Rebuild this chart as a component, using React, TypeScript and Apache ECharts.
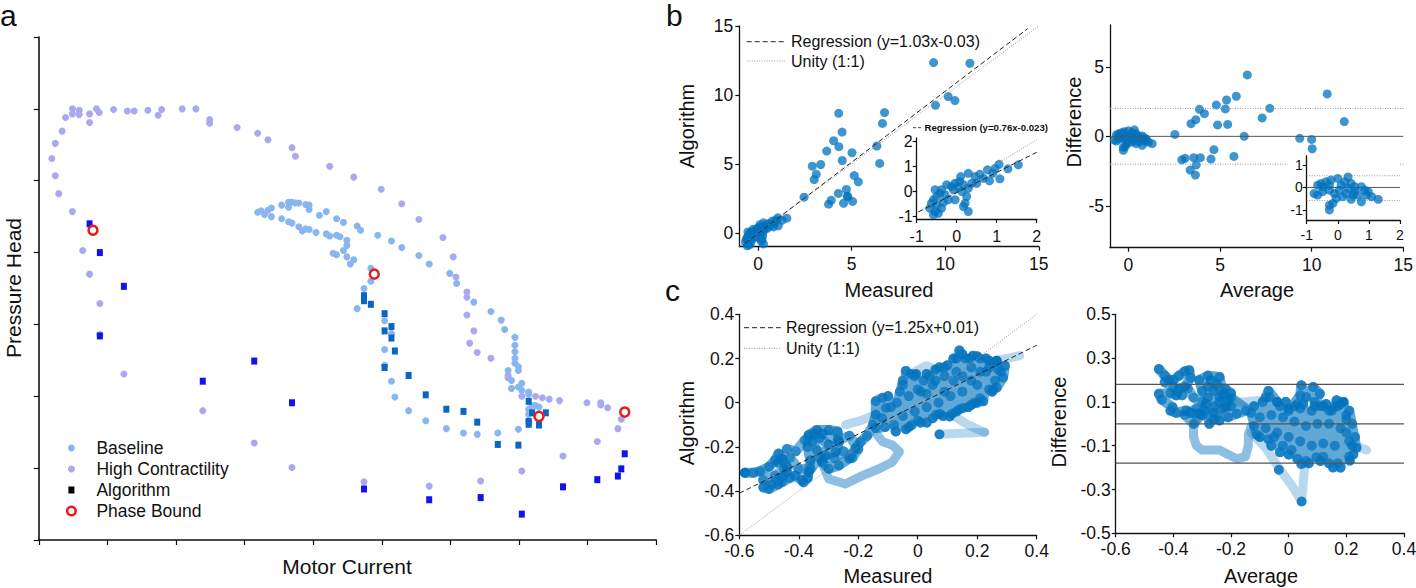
import React, { useEffect, useRef } from "react";
import * as echarts from "echarts";

const FONT = "'Liberation Sans', Arial, Helvetica, sans-serif";
const BLUE = "#0072BD";

// ---------------- Panel a : Pressure Head vs Motor Current ----------------
const aHighContractility: number[][] = [
  [0.19, 5.31], [0.24, 5.52], [0.24, 5.07], [0.29, 4.82], [0.34, 5.69], [0.39, 5.88], [0.49, 6.0], [0.49, 5.93],
  [0.59, 5.98], [0.59, 5.92], [0.49, 4.57], [0.64, 4.03], [0.74, 3.7], [0.74, 5.93], [0.74, 5.81], [0.84, 6.0],
  [0.88, 5.95], [1.09, 5.99], [1.29, 5.97], [1.39, 5.97], [1.59, 5.98], [1.74, 5.91], [1.79, 5.99], [2.09, 6.0],
  [2.29, 6.0], [2.49, 5.85], [2.49, 5.8], [2.89, 5.74], [3.19, 5.66], [3.34, 5.57], [3.69, 5.46], [3.74, 5.34],
  [4.24, 5.2], [4.59, 5.05], [4.99, 4.88], [5.29, 4.68], [5.54, 4.46], [5.89, 4.21], [6.04, 3.94], [6.08, 3.66],
  [6.24, 3.45], [6.24, 3.38], [0.89, 3.29], [0.89, 2.86], [6.24, 3.13], [6.34, 2.91], [6.28, 2.74], [6.39, 2.61],
  [6.59, 2.53], [1.24, 2.31], [2.39, 1.8], [3.14, 1.35], [3.69, 1.01], [4.74, 0.81], [5.69, 0.75], [6.44, 0.82],
  [7.04, 0.96], [7.64, 1.17], [8.14, 1.37], [8.44, 1.55], [8.49, 1.68], [8.29, 1.84], [8.19, 1.88], [8.19, 1.91],
  [7.99, 1.91], [7.59, 1.94], [7.44, 1.96], [7.34, 1.98], [7.24, 2.0], [7.04, 2.0], [6.84, 2.29], [6.84, 2.26],
];
const aBaseline: number[][] = [
  [3.19, 4.56], [3.24, 4.58], [3.29, 4.53], [3.34, 4.59], [3.39, 4.62], [3.39, 4.5], [3.54, 4.66], [3.64, 4.7],
  [3.64, 4.63], [3.69, 4.7], [3.74, 4.69], [3.79, 4.69], [3.89, 4.67], [3.94, 4.66], [3.94, 4.6], [4.09, 4.52],
  [4.19, 4.57], [3.54, 4.47], [3.64, 4.43], [3.69, 4.41], [3.79, 4.36], [3.84, 4.3], [3.89, 4.33], [3.94, 4.32],
  [4.04, 4.28], [4.19, 4.26], [4.24, 4.23], [4.34, 4.24], [4.39, 4.22], [4.34, 4.47], [4.44, 4.42], [4.64, 4.37],
  [4.69, 4.31], [4.49, 4.17], [4.49, 4.1], [4.44, 4.03], [4.29, 3.99], [4.34, 3.97], [4.49, 3.94], [4.59, 3.9],
  [4.54, 3.84], [4.84, 3.78], [4.84, 3.6], [4.74, 3.5], [4.94, 4.24], [5.14, 4.16], [5.29, 4.07], [5.54, 3.96],
  [5.69, 3.84], [5.99, 3.71], [6.09, 3.57], [6.34, 3.31], [4.64, 3.22], [5.04, 3.05], [5.14, 2.87], [5.04, 2.65],
  [5.04, 2.43], [5.14, 2.21], [5.19, 1.99], [5.39, 1.8], [5.64, 1.66], [5.94, 1.55], [6.19, 1.49], [6.39, 1.47],
  [6.69, 1.49], [6.99, 1.54], [6.59, 3.18], [6.74, 3.06], [6.79, 2.93], [6.94, 2.82], [6.94, 2.71], [6.94, 2.62],
  [6.94, 2.53], [6.94, 2.46], [6.99, 2.41], [6.99, 2.36], [6.84, 2.36], [6.89, 2.22], [6.89, 2.11], [6.99, 2.13],
  [7.04, 2.18], [7.04, 2.08], [7.14, 2.06], [7.14, 2.03], [7.19, 1.87], [7.24, 1.87], [7.29, 1.85], [7.14, 1.82],
  [7.14, 1.75], [7.14, 1.66],
];
const aAlgorithmHigh: number[][] = [
  [0.74, 4.4], [0.89, 4.0], [1.24, 3.53], [0.89, 2.84], [3.14, 2.49], [2.39, 2.21], [3.69, 1.91], [4.74, 0.71],
  [5.69, 0.56], [6.44, 0.59], [7.04, 0.36], [7.64, 0.74], [8.14, 0.84], [8.44, 0.89], [8.49, 0.99], [8.54, 1.2],
];
const aAlgorithmBase: number[][] = [
  [4.74, 3.4], [4.74, 3.33], [4.84, 3.28], [5.04, 3.15], [5.14, 2.97], [5.04, 2.91], [5.14, 2.81], [5.19, 2.63],
  [5.04, 2.4], [5.39, 2.29], [5.64, 2.02], [5.94, 1.82], [6.19, 1.79], [6.39, 1.64], [6.69, 1.33], [6.99, 1.32],
  [7.14, 1.93], [7.19, 1.77], [7.39, 1.77], [7.14, 1.65], [7.14, 1.61], [7.29, 1.6],
];
const aPhaseBound: number[][] = [[0.79, 4.31], [4.89, 3.7], [7.29, 1.72], [8.54, 1.78]];

// ---------------- Panel b : agreement (Measured vs Algorithm) ----------------
const bFar: number[][] = [
  [9.38, 12.35], [11.32, 12.3], [10.16, 9.88], [10.52, 9.59], [9.48, 9.25], [6.76, 8.72], [6.65, 7.94], [6.5, 5.04],
  [6.35, 6.3], [4.31, 8.67], [4.49, 7.31], [4.04, 6.68], [4.32, 6.25], [3.67, 5.93], [4.5, 5.25], [5.02, 5.81],
  [3.35, 4.96], [2.9, 4.84], [3.11, 4.26], [3.0, 3.87], [5.14, 4.16], [5.36, 3.7], [4.72, 3.15], [4.77, 2.66],
  [4.29, 2.86], [3.91, 2.37], [3.77, 2.08], [4.57, 2.15], [5.05, 2.28], [2.46, 2.59], [4.8, 2.62],
];
const bCluster: number[][] = [
  [1.54, 1.07], [1.28, 0.91], [1.06, 1.09], [0.96, 0.93], [0.77, 0.87], [0.9, 0.73], [1.08, 0.51], [0.58, 0.69],
  [0.46, 0.6], [0.67, 0.53], [0.82, 0.43], [0.29, 0.73], [0.1, 0.6], [0.07, 0.4], [-0.04, 0.33], [-0.13, 0.2],
  [-0.08, 0.07], [0.04, 0.16], [0.17, 0.27], [0.29, 0.13], [0.25, -0.2], [0.21, -0.47], [0.17, -0.6], [0.29, -0.8],
  [-0.04, -0.33], [-0.25, 0.27], [-0.38, 0.07], [-0.42, -0.07], [-0.5, -0.2], [-0.54, 0.07], [-0.58, -0.33],
  [-0.63, -0.47], [-0.67, -0.67], [-0.54, -0.8], [-0.46, -0.87], [-0.38, -0.67], [-0.33, -0.43], [-0.21, -0.33],
  [-0.5, -0.53], [-0.29, -0.13], [0.13, 0], [0.38, 0.33], [0.5, 0.33], [-0.58, -0.93],
];
const bRegression: number[][] = [[-0.7, -0.75], [14.4, 14.8]];
const bUnity: number[][] = [[-1, -1], [15, 15]];
const bInsetRegression: number[][] = [[-0.96, -0.82], [2, 1.57]];
const bInsetUnity: number[][] = [[-0.96, -0.8], [2, 2.07]];
const bTicks = [0, 5, 10, 15];
const insetTicks = [-1, 0, 1, 2];

// Bland-Altman (Average vs Difference)
const baFar: number[][] = [
  [6.49, 4.41], [10.85, 3.05], [11.78, 1.06], [5.89, 2.88], [5.36, 2.61], [4.8, 2.25], [5.29, 1.97], [7.72, 2.01],
  [7.3, 1.32], [3.88, 1.94], [4.15, 1.63], [3.68, 1.2], [3.42, 0.91], [4.87, 0.82], [5.42, 0.86], [2.54, 0.14],
  [6.32, 0], [9.35, -0.14], [10.0, -0.22], [10.03, -0.89], [4.67, -0.96], [5.76, -1.44], [4.51, -1.63],
  [3.57, -1.53], [3.93, -1.53], [3.1, -1.58], [2.92, -1.68], [3.7, -2.06], [3.37, -2.42], [3.66, -2.78],
];
const baCluster: number[][] = [
  [1.3, -0.53], [1.09, -0.41], [0.98, -0.19], [0.87, -0.12], [0.92, -0.34], [0.76, -0.64], [0.76, 0.03],
  [0.54, -0.19], [0.49, -0.34], [0.43, -0.53], [0.33, 0.47], [0.43, 0.18], [0.22, 0.25], [0.11, 0.1], [0, 0.4],
  [-0.22, 0.33], [-0.38, 0.25], [-0.54, 0.18], [-0.65, 0.1], [-0.76, -0.27], [-0.65, -0.34], [-0.49, -0.19],
  [-0.27, -0.12], [-0.11, -0.27], [-0.16, -0.71], [-0.27, -0.79], [-0.27, -1.0], [-0.05, -0.49], [0.16, -0.41],
  [0.27, -0.27], [0.05, -0.12], [0.33, -0.04], [0.54, 0.03], [-0.27, 0.1], [-0.49, 0.03], [0.65, -0.34],
];
const baLevels = { mean: 0, upper: 2, lower: -2 };
const baInsetLevels = { mean: 0, upper: 0.52, lower: -0.58 };
const baYTicks = [-5, 0, 5];
const baInsetYTicks = [-1, 0, 1];

// ---------------- Panel c : continuous trajectories ----------------
// dense (slow) part of the Measured/Algorithm trajectory
const cMeasuredAlgorithm: number[][] = [
  [-0.581, -0.317], [-0.553, -0.317], [-0.53, -0.31], [-0.5, -0.29], [-0.48, -0.26], [-0.468, -0.23],
  [-0.457, -0.253], [-0.44, -0.29], [-0.44, -0.314], [-0.457, -0.34], [-0.49, -0.37], [-0.519, -0.383],
  [-0.5, -0.39], [-0.47, -0.37], [-0.457, -0.36], [-0.43, -0.34], [-0.412, -0.33], [-0.39, -0.35], [-0.384, -0.36],
  [-0.37, -0.34], [-0.367, -0.314], [-0.361, -0.26], [-0.37, -0.2], [-0.367, -0.146], [-0.339, -0.123],
  [-0.299, -0.123], [-0.27, -0.13], [-0.265, -0.177], [-0.276, -0.222], [-0.31, -0.238], [-0.339, -0.215],
  [-0.355, -0.177], [-0.33, -0.16], [-0.3, -0.19], [-0.322, -0.268], [-0.299, -0.299], [-0.265, -0.284],
  [-0.231, -0.253], [-0.209, -0.207], [-0.192, -0.177], [-0.17, -0.15], [-0.15, -0.1], [-0.141, -0.054],
  [-0.141, 0.007], [-0.118, 0.022], [-0.107, -0.024], [-0.12, -0.07], [-0.141, -0.115], [-0.11, -0.11],
  [-0.09, -0.02], [-0.074, -0.13], [-0.06, 0.05], [-0.04, -0.12], [-0.04, 0.144], [-0.02, -0.1], [-0.006, 0.13],
  [0.0, -0.08], [0.02, 0.1], [0.03, -0.09], [0.04, 0.12], [0.062, -0.054], [0.073, 0.16], [0.085, -0.06],
  [0.1, 0.17], [0.107, -0.062], [0.12, 0.2], [0.13, -0.04], [0.14, 0.236], [0.152, -0.024], [0.16, 0.2],
  [0.18, -0.01], [0.186, 0.213], [0.2, 0.0], [0.21, 0.2], [0.22, 0.007], [0.24, 0.19], [0.25, 0.05], [0.265, 0.19],
  [0.265, 0.068], [0.287, 0.114], [0.293, 0.167], [0.27, 0.15], [0.253, 0.06], [0.23, 0.14], [0.2, 0.08],
  [0.18, 0.16], [0.15, 0.05], [0.13, 0.14], [0.11, 0.03], [0.09, 0.12], [0.07, 0.0], [0.05, 0.08], [0.03, -0.02],
  [0.01, 0.05], [-0.01, -0.04], [-0.03, 0.03], [-0.05, -0.06], [-0.07, 0.0], [-0.05, 0.08], [-0.023, 0.13],
  [0.0, 0.06], [0.03, 0.04], [0.06, 0.1], [0.09, 0.05], [0.12, 0.1], [0.15, 0.12], [0.18, 0.1], [0.21, 0.14],
  [0.24, 0.16], [0.265, 0.19], [0.28, 0.14], [0.26, 0.1], [0.255, 0.18], [0.24, 0.06], [0.23, 0.2], [0.21, 0.02],
  [0.2, 0.21], [0.19, 0.0], [0.175, 0.2], [0.17, -0.02], [0.15, 0.22], [0.14, -0.03], [0.13, 0.2], [0.115, -0.05],
  [0.09, 0.16], [0.075, -0.05], [0.06, 0.15], [0.05, -0.07], [0.03, 0.13], [0.01, -0.09], [-0.01, 0.12],
  [-0.03, -0.11], [-0.05, 0.1], [-0.08, -0.1], [-0.1, 0.03],
];
// a second slow loop through the lower-left cluster
const cMeasuredAlgorithmLoop: number[][] = [
  [-0.52, -0.35], [-0.48, -0.33], [-0.45, -0.3], [-0.47, -0.27], [-0.43, -0.25], [-0.4, -0.3], [-0.36, -0.3],
  [-0.33, -0.25], [-0.28, -0.25], [-0.25, -0.22], [-0.22, -0.25], [-0.2, -0.21], [-0.23, -0.15], [-0.27, -0.17],
  [-0.32, -0.14], [-0.35, -0.14], [-0.38, -0.17], [-0.41, -0.22], [-0.44, -0.21],
];
// faster (lighter) stretches of the same trajectory
const cMeasuredAlgorithmStreaks: number[][][] = [
  [[-0.322, -0.268], [-0.31, -0.31], [-0.299, -0.345], [-0.243, -0.368], [-0.186, -0.33], [-0.13, -0.299],
    [-0.085, -0.268], [-0.062, -0.222], [-0.085, -0.192], [-0.118, -0.177], [-0.136, -0.146]],
  [[-0.243, -0.1], [-0.19, -0.08], [-0.141, -0.054]],
  [[0.073, -0.143], [0.15, -0.138], [0.225, -0.134]],
  [[0.12, -0.06], [0.17, -0.1], [0.225, -0.134]],
  [[0.265, 0.19], [0.3, 0.2], [0.343, 0.213]],
  [[-0.023, 0.13], [0.028, 0.167], [0.06, 0.15]],
];
const cMeasuredAlgorithmDots: number[][] = [[0.073, -0.143], [-0.581, -0.317]];
const cRegression: number[][] = [[-0.6, -0.41], [0.4, 0.26]];
const cUnity: number[][] = [[-0.6, -0.6], [0.4, 0.4]];
const cTicks = [-0.6, -0.4, -0.2, 0, 0.2, 0.4];

// Bland-Altman trajectory (Average vs Difference)
const cAverageDifference: number[][] = [
  [-0.45, 0.25], [-0.43, 0.22], [-0.414, 0.2], [-0.4, 0.2], [-0.38, 0.22], [-0.36, 0.24], [-0.345, 0.245],
  [-0.34, 0.21], [-0.36, 0.17], [-0.38, 0.16], [-0.39, 0.13], [-0.41, 0.14], [-0.45, 0.137], [-0.44, 0.11],
  [-0.403, 0.076], [-0.41, 0.06], [-0.39, 0.05], [-0.356, 0.061], [-0.34, 0.05], [-0.31, 0.046], [-0.3, 0.04],
  [-0.287, 0.092], [-0.275, 0.0], [-0.26, 0.05], [-0.24, 0.015], [-0.217, 0.076], [-0.21, 0.03], [-0.18, 0.046],
  [-0.148, 0.061], [-0.2, 0.08], [-0.24, 0.1], [-0.26, 0.08], [-0.28, 0.12], [-0.3, 0.15], [-0.31, 0.2],
  [-0.28, 0.22], [-0.24, 0.214], [-0.229, 0.137], [-0.22, 0.16], [-0.2, 0.14], [-0.24, 0.12], [-0.26, 0.15],
  [-0.28, 0.17], [-0.2, 0.12], [-0.13, 0.05], [-0.11, -0.05], [-0.09, 0.1], [-0.07, -0.07], [-0.066, 0.122],
  [-0.05, -0.06], [-0.03, 0.08], [-0.02, -0.1], [0.0, 0.07], [0.01, -0.12], [0.03, 0.09], [0.044, -0.183],
  [0.05, 0.09], [0.06, -0.17], [0.08, 0.06], [0.096, -0.153], [0.11, 0.08], [0.12, -0.15], [0.14, 0.06],
  [0.154, -0.199], [0.166, 0.107], [0.17, -0.18], [0.19, 0.1], [0.212, -0.168], [0.2, 0.04], [0.224, -0.14],
  [0.22, 0.0], [0.21, -0.08], [0.18, -0.02], [0.16, -0.1], [0.14, 0.0], [0.12, -0.09], [0.1, 0.0], [0.08, -0.1],
  [0.06, -0.01], [0.04, -0.08], [0.02, 0.01], [0.0, -0.06], [-0.02, 0.03], [-0.04, -0.04], [-0.06, 0.04],
  [-0.08, -0.02], [-0.1, 0.03], [-0.12, -0.01], [-0.07, 0.15], [-0.04, 0.1], [0.0, 0.06], [0.04, 0.13],
  [0.044, 0.176], [0.061, 0.122], [0.085, 0.168], [0.108, 0.137], [0.09, 0.1], [0.12, 0.08], [0.15, 0.06],
  [0.17, 0.08], [0.19, 0.1], [0.2, 0.02], [0.23, -0.06], [0.22, -0.1], [0.2, -0.04], [0.235, -0.11],
  [0.21, 0.06], [0.21, -0.15], [0.18, 0.09], [0.18, -0.2], [0.16, 0.08], [0.14, -0.18], [0.13, 0.09],
  [0.11, -0.17], [0.09, 0.08], [0.07, -0.18], [0.04, 0.07], [0.03, -0.16], [0.02, 0.08], [0.0, -0.14],
  [-0.01, 0.1], [-0.03, -0.13], [-0.04, 0.1], [-0.06, -0.1], [-0.08, 0.12], [-0.1, -0.06], [-0.12, 0.08],
];
// a second slow loop through the upper-left cluster
const cAverageDifferenceLoop: number[][] = [
  [-0.43, 0.19], [-0.4, 0.17], [-0.37, 0.13], [-0.35, 0.16], [-0.33, 0.12], [-0.3, 0.1], [-0.32, 0.07],
  [-0.36, 0.04], [-0.33, 0.0], [-0.29, 0.06], [-0.26, 0.02], [-0.23, 0.07], [-0.21, 0.11], [-0.25, 0.18],
  [-0.27, 0.2],
];
const cAverageDifferenceStreaks: number[][][] = [
  [[-0.13, -0.04], [-0.08, -0.11], [-0.03, -0.21], [0.01, -0.28], [0.045, -0.355], [0.05, -0.28], [0.055, -0.2]],
  [[-0.32, 0.02], [-0.33, -0.02], [-0.33, -0.06], [-0.32, -0.1], [-0.3, -0.12], [-0.27, -0.12], [-0.24, -0.12],
    [-0.21, -0.14], [-0.18, -0.16], [-0.15, -0.15], [-0.14, -0.1], [-0.14, -0.05], [-0.13, -0.01]],
  [[-0.206, 0.1], [-0.16, 0.1], [-0.107, 0.107]],
  [[0.22, -0.1], [0.25, -0.11], [0.27, -0.12]],
];
const cAverageDifferenceDots: number[][] = [[-0.034, -0.21], [0.045, -0.355]];
const cBALevels = [0.18, 0, -0.18];
const cBAYTicks = [-0.5, -0.3, -0.1, 0.1, 0.3, 0.5];

// ---------------- helpers ----------------
const axis = (gridIndex: number, min: number, max: number, ticks: number[] | null, o: any = {}) => ({
  type: "value",
  gridIndex,
  min,
  max,
  z: o.z ?? 0,
  splitLine: { show: false },
  axisLine: { show: true, onZero: false, lineStyle: { color: "#111", width: o.lw ?? 1.3 } },
  axisTick: {
    show: true,
    inside: false,
    length: o.tickLen ?? 4,
    lineStyle: { color: "#111", width: 1.2 },
    ...(ticks ? { customValues: ticks } : {}),
  },
  axisLabel: {
    show: o.noLabel ? false : true,
    fontSize: o.fs ?? 17.5,
    color: "#111",
    fontFamily: FONT,
    margin: o.margin ?? 7,
    ...(ticks ? { customValues: ticks } : {}),
  },
  ...(o.interval ? { interval: o.interval } : {}),
});

const scatter = (idx: number, data: number[][], o: any = {}) => ({
  type: "scatter",
  xAxisIndex: idx,
  yAxisIndex: idx,
  data,
  symbol: o.symbol ?? "circle",
  symbolSize: o.size ?? 9,
  z: o.z ?? 2,
  silent: true,
  itemStyle: {
    color: o.color ?? BLUE,
    opacity: o.opacity ?? 1,
    ...(o.border ? { borderColor: o.border, borderWidth: o.bw ?? 2.5 } : {}),
  },
});

const line = (idx: number, data: number[][], o: any = {}) => ({
  type: "line",
  xAxisIndex: idx,
  yAxisIndex: idx,
  data,
  symbol: "none",
  silent: true,
  z: o.z ?? 3,
  lineStyle: {
    color: o.color ?? "#222",
    width: o.width ?? 1,
    type: o.dash ?? "solid",
    opacity: o.opacity ?? 1,
    cap: o.cap ?? "butt",
    join: o.join ?? "miter",
  },
});

const trail = (idx: number, data: number[][], opacity: number, width = 9) =>
  line(idx, data, { color: BLUE, width, opacity, cap: "round", join: "round", z: 2 });

const T = (text: string, x: number, y: number, size: number, o: any = {}) => ({
  type: "text",
  x,
  y,
  rotation: o.rot ?? 0,
  z: 50,
  silent: true,
  style: {
    text,
    fontSize: size,
    fontFamily: FONT,
    fontWeight: o.weight ?? "normal",
    fill: o.fill ?? "#111",
    align: o.align ?? "center",
    verticalAlign: "middle",
  },
});

const L = (x1: number, y1: number, x2: number, y2: number, stroke: string, dash: number[] | null, w = 1) => ({
  type: "line",
  z: 50,
  silent: true,
  shape: { x1, y1, x2, y2 },
  style: { stroke, lineWidth: w, lineDash: dash ?? undefined },
});

const DASH = [5, 3];
const DOT = [1, 1.5];
const ROT = Math.PI / 2;

const option: any = {
  animation: false,
  backgroundColor: "#ffffff",
  grid: [
    { left: 38.8, top: 37, width: 617.5, height: 503, outerBoundsMode: "none" },
    { left: 739.3, top: 26, width: 299.5, height: 220.7, outerBoundsMode: "none" },
    { left: 916.7, top: 137.8, width: 120, height: 81.2, outerBoundsMode: "none" },
    { left: 1110, top: 25, width: 293.3, height: 222.7, outerBoundsMode: "none" },
    { left: 1306.7, top: 156, width: 93.3, height: 64, outerBoundsMode: "none" },
    { left: 739.3, top: 314.3, width: 297.4, height: 221, outerBoundsMode: "none" },
    { left: 1115.7, top: 314.3, width: 288.3, height: 219, outerBoundsMode: "none" },
  ],
  xAxis: [
    axis(0, 0, 9, null, { interval: 1, tickLen: 5, noLabel: true, lw: 1.6 }),
    axis(1, -1, 15, bTicks, { margin: 8 }),
    axis(2, -1, 2, insetTicks, { fs: 16, margin: 9 }),
    axis(3, -1, 15, bTicks, { margin: 8 }),
    axis(4, -1, 2, insetTicks, { fs: 14, margin: 8, z: 10 }),
    axis(5, -0.6, 0.4, cTicks, { margin: 7 }),
    axis(6, -0.6, 0.4, cTicks, { margin: 7 }),
  ],
  yAxis: [
    axis(0, 0, 7, null, { interval: 1, tickLen: 5, noLabel: true, lw: 1.6 }),
    axis(1, -1, 15, bTicks, { margin: 6 }),
    axis(2, -1.1, 2.15, insetTicks, { fs: 16, margin: 4 }),
    axis(3, -8, 8, baYTicks, { margin: 6 }),
    axis(4, -1.45, 1.4, baInsetYTicks, { fs: 14, margin: 4, z: 10 }),
    axis(5, -0.6, 0.4, cTicks, { margin: 5 }),
    axis(6, -0.5, 0.5, cBAYTicks, { margin: 5 }),
  ],
  series: [
    // panel a
    scatter(0, aHighContractility, { color: "#a9a9f2", size: 7 }),
    scatter(0, aBaseline, { color: "#89b5f0", size: 7 }),
    scatter(0, aAlgorithmBase, { color: "#0b66c2", symbol: "rect", size: [6, 7] }),
    scatter(0, aAlgorithmHigh, { color: "#1212ee", symbol: "rect", size: [6, 7] }),
    scatter(0, aPhaseBound, { color: "rgba(255,255,255,0.6)", border: "#ea1a1a", bw: 2.5, size: 9, z: 4 }),

    // panel b left
    line(1, bUnity, { color: "#999", dash: DOT, width: 1 }),
    line(1, bRegression, { color: "#222", dash: DASH, width: 1 }),
    scatter(1, bFar, { opacity: 0.75 }),
    scatter(1, bCluster, { opacity: 0.75 }),
    // inset
    line(2, bInsetUnity, { color: "#999", dash: DOT, width: 1 }),
    line(2, bInsetRegression, { color: "#222", dash: DASH, width: 1, z: 4 }),
    scatter(2, bCluster, { opacity: 0.75 }),

    // panel b right
    line(3, [[-1, baLevels.mean], [15, baLevels.mean]], { color: "#555", width: 1 }),
    line(3, [[-1, baLevels.upper], [15, baLevels.upper]], { color: "#999", dash: DOT, width: 1 }),
    line(3, [[-1, baLevels.lower], [15, baLevels.lower]], { color: "#999", dash: DOT, width: 1 }),
    scatter(3, baFar, { opacity: 0.75 }),
    scatter(3, baCluster, { opacity: 0.75 }),
    // inset
    line(4, [[-1, baInsetLevels.mean], [2, baInsetLevels.mean]], { color: "#555", width: 1, z: 12 }),
    line(4, [[-1, baInsetLevels.upper], [2, baInsetLevels.upper]], { color: "#999", dash: DOT, width: 1, z: 12 }),
    line(4, [[-1, baInsetLevels.lower], [2, baInsetLevels.lower]], { color: "#999", dash: DOT, width: 1, z: 12 }),
    scatter(4, baCluster, { opacity: 0.75, z: 13 }),

    // panel c left
    ...cMeasuredAlgorithmStreaks.map((s, i) => trail(5, s, i === 0 ? 0.45 : 0.28)),
    trail(5, cMeasuredAlgorithmLoop, 0.55, 10),
    scatter(5, cMeasuredAlgorithmLoop, { opacity: 0.6, size: 10 }),
    trail(5, cMeasuredAlgorithm, 0.62, 10),
    scatter(5, cMeasuredAlgorithm, { opacity: 0.7, size: 10 }),
    scatter(5, cMeasuredAlgorithmDots, { opacity: 0.85, size: 10 }),
    line(5, cUnity, { color: "#999", dash: DOT, width: 1, z: 5 }),
    line(5, cRegression, { color: "#222", dash: DASH, width: 1, z: 5 }),

    // panel c right
    ...cAverageDifferenceStreaks.map((s, i) => trail(6, s, i === 1 ? 0.45 : 0.28)),
    trail(6, cAverageDifferenceLoop, 0.55, 10),
    scatter(6, cAverageDifferenceLoop, { opacity: 0.6, size: 10 }),
    trail(6, cAverageDifference, 0.62, 10),
    scatter(6, cAverageDifference, { opacity: 0.7, size: 10 }),
    scatter(6, cAverageDifferenceDots, { opacity: 0.85, size: 10 }),
    ...cBALevels.map((v) => line(6, [[-0.6, v], [0.4, v]], { color: "#555", width: 1.2, z: 5 })),
  ],
  graphic: {
    elements: [
      // white backing for the Bland-Altman inset
      { type: "rect", z: 5, silent: true, shape: { x: 1288, y: 158, width: 112, height: 80 }, style: { fill: "#fff" } },

      // panel letters
      T("a", 0, 15, 30, { align: "left" }),
      T("b", 666, 15, 30, { align: "left" }),
      T("c", 665, 290, 30, { align: "left" }),

      // panel a names + legend
      T("Pressure Head", 13, 288, 21, { rot: ROT }),
      T("Motor Current", 347, 566, 21),
      { type: "circle", z: 50, silent: true, shape: { cx: 71.4, cy: 448, r: 3.5 }, style: { fill: "#89b5f0" } },
      { type: "circle", z: 50, silent: true, shape: { cx: 71.4, cy: 469, r: 3.5 }, style: { fill: "#a9a9f2" } },
      { type: "rect", z: 50, silent: true, shape: { x: 68.4, y: 486.5, width: 6, height: 7 }, style: { fill: "#000" } },
      { type: "circle", z: 50, silent: true, shape: { cx: 71.4, cy: 511, r: 4.3 }, style: { fill: "none", stroke: "#ea1a1a", lineWidth: 2.5 } },
      T("Baseline", 96.4, 448, 17.5, { align: "left" }),
      T("High Contractility", 96.4, 469, 17.5, { align: "left" }),
      T("Algorithm", 96.4, 490, 17.5, { align: "left" }),
      T("Phase Bound", 96.4, 511, 17.5, { align: "left" }),

      // panel b names + legends
      T("Algorithm", 687, 126, 20, { rot: ROT }),
      T("Measured", 889, 290, 20),
      T("Difference", 1074, 122, 20, { rot: ROT }),
      T("Average", 1257, 290, 20),
      L(746.7, 41.7, 785, 41.7, "#222", DASH),
      L(746.7, 61, 785, 61, "#999", DOT),
      T("Regression (y=1.03x-0.03)", 791, 41.7, 16, { align: "left" }),
      T("Unity (1:1)", 791, 61, 16, { align: "left" }),
      L(913, 127.7, 921, 127.7, "#444", [3, 2]),
      T("Regression (y=0.76x-0.023)", 924.5, 127.7, 9.6, { align: "left", weight: "bold" }),

      // panel c names + legend
      T("Algorithm", 687, 423, 20, { rot: ROT }),
      T("Measured", 888, 576, 20),
      T("Difference", 1059, 422, 20, { rot: ROT }),
      T("Average", 1261, 576, 20),
      L(744, 327.7, 780.7, 327.7, "#222", DASH),
      L(744, 348.3, 780.7, 348.3, "#999", DOT),
      T("Regression (y=1.25x+0.01)", 786, 327.7, 16, { align: "left" }),
      T("Unity (1:1)", 786, 348.3, 16, { align: "left" }),
    ],
  },
};

export default function App() {
  const ref = useRef<HTMLDivElement>(null);
  useEffect(() => {
    if (!ref.current) return;
    const chart = echarts.init(ref.current, null, { renderer: "svg" });
    chart.setOption(option);
    return () => chart.dispose();
  }, []);
  return (
    <div
      ref={ref}
      style={{ position: "absolute", left: 0, top: 0, width: 1416, height: 588, background: "#fff" }}
    />
  );
}
